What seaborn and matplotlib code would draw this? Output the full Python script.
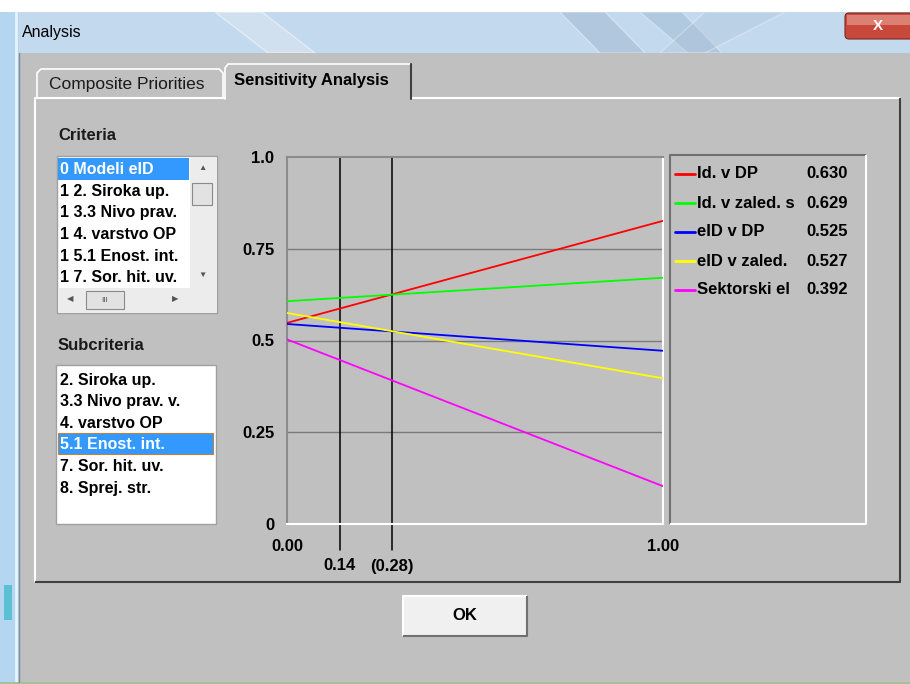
import numpy as np
import pandas as pd
import matplotlib.pyplot as plt
import seaborn as sns
from matplotlib.patches import Rectangle, Polygon, FancyBboxPatch

# chart data
alpha = [0.0, 1.0]
names = ['Id. v DP', 'Id. v zaled. s', 'eID v DP', 'eID v zaled.', 'Sektorski el']
start_vals = [0.548, 0.607, 0.545, 0.575, 0.503]
end_vals = [0.826, 0.671, 0.472, 0.397, 0.103]
legend_vals = ['0.630', '0.629', '0.525', '0.527', '0.392']
colors = ['#ff0000', '#00ff00', '#0000ff', '#ffff00', '#ff00ff']
marks = [0.14, 0.28]
mark_labels = ['0.14', '(0.28)']
yticks = [0, 0.25, 0.5, 0.75, 1.0]
ytick_labels = ['0', '0.25', '0.5', '0.75', '1.0']
criteria = ['0 Modeli eID', '1 2. Siroka up.', '1 3.3 Nivo prav.', '1 4. varstvo OP',
            '1 5.1 Enost. int.', '1 7. Sor. hit. uv.']
subcriteria = ['2. Siroka up.', '3.3 Nivo prav. v.', '4. varstvo OP', '5.1 Enost. int.',
               '7. Sor. hit. uv.', '8. Sprej. str.']

rows = []
for n, a, b in zip(names, start_vals, end_vals):
    rows.append({'alpha': alpha[0], 'priority': a, 'alt': n})
    rows.append({'alpha': alpha[1], 'priority': b, 'alt': n})
df = pd.DataFrame(rows)

sns.set_theme(style='white')
plt.rcParams['font.family'] = ['Liberation Sans', 'DejaVu Sans']

W, H = 910, 684
fig = plt.figure(figsize=(W / 100, H / 100), dpi=100)
fig.patch.set_facecolor('white')

# background / window chrome in pixel coords
bg = fig.add_axes([0, 0, 1, 1])
bg.set_xlim(0, W)
bg.set_ylim(H, 0)
bg.axis('off')

def box(x0, y0, x1, y1, fc, ec='none', lw=0, z=1):
    bg.add_patch(Rectangle((x0, y0), x1 - x0, y1 - y0, fc=fc, ec=ec, lw=lw, zorder=z))

def bevel(x0, y0, x1, y1, light, dark, lw=1.0, z=3):
    bg.plot([x0, x0, x1], [y1, y0, y0], color=light, lw=lw, zorder=z, solid_capstyle='butt')
    bg.plot([x0, x1, x1], [y1, y1, y0], color=dark, lw=lw, zorder=z, solid_capstyle='butt')

# glass frame
box(0, 12, W, H, '#c3d9ee')
box(0, 12, 19, H, '#b4d6f0')
bg.plot([16, 16], [12, H], color='#e8f3fb', lw=2, zorder=1)
box(4, 585, 12, 620, '#5cbfd2', z=1)
bg.add_patch(Polygon([[215, 12], [262, 12], [315, 53], [268, 53]], fc='#e4eaf0', alpha=0.45, zorder=1))
bg.add_patch(Polygon([[560, 12], [605, 12], [645, 53], [600, 53]], fc='#8ea8c2', alpha=0.35, zorder=1))
bg.add_patch(Polygon([[640, 12], [682, 12], [722, 53], [688, 53]], fc='#8aa4bf', alpha=0.3, zorder=1))
bg.add_patch(Polygon([[705, 12], [785, 12], [705, 53], [660, 53]], fc='#a8bfd4', alpha=0.3, zorder=1))
bg.text(22, 33, 'Analysis', fontsize=11.5, color='black', va='center', ha='left', zorder=4)
bg.add_patch(FancyBboxPatch((845, 13), 70, 26, boxstyle='round,pad=0,rounding_size=4',
                            fc='#c9483c', ec='#7a2a22', lw=0.8, zorder=2))
box(847, 15, 912, 25, '#dd8074', z=2)
bg.text(878, 26, 'X', fontsize=11, fontweight='bold', color='white', ha='center', va='center', zorder=4)

# dialog body
box(19, 53, W, 682, '#c0c0c0', z=1)
bg.plot([19, 19], [53, 682], color='#7a8a99', lw=1, zorder=2)
box(0, 682, W, H, '#a9bf97', z=1)

# tab panel
bevel(35, 98, 900, 582, 'white', '#404040', lw=1.5)
# tabs
bg.plot([37, 37, 41, 219, 223, 223], [98, 73, 69, 69, 73, 98], color='white', lw=1.2, zorder=3)
box(225, 96, 410, 100, '#c0c0c0', z=4)
bg.plot([225, 225, 228, 410], [99, 68, 64, 64], color='white', lw=1.2, zorder=4)
bg.plot([411, 411], [64, 99], color='#404040', lw=1.5, zorder=4)
bg.text(49, 85, 'Composite Priorities', fontsize=12.5, color='#1a1a1a', va='center', ha='left', zorder=4)
bg.text(234, 80, 'Sensitivity Analysis', fontsize=12, fontweight='bold', color='black',
        va='center', ha='left', zorder=4)

# criteria list
bg.text(58, 135, 'Criteria', fontsize=12, fontweight='bold', color='#1a1a1a', va='center', zorder=4)
box(57, 156, 217, 313, 'white', ec='#a0a0a0', lw=1, z=2)
box(58, 158, 189, 180, '#3399ff', z=3)
clip = Rectangle((58, 157), 131, 131, transform=bg.transData)
for i, t in enumerate(criteria):
    txt = bg.text(60, 169.5 + 21.7 * i, t, fontsize=11.5, fontweight='bold',
                  color='white' if i == 0 else 'black', va='center', ha='left', zorder=4)
    txt.set_clip_path(clip)
box(190, 157, 216, 288, '#ececec', z=3)
box(192, 183, 212, 205, '#e2e2e2', ec='#8a8a8a', lw=0.8, z=4)
bg.text(202, 169, '▲', fontsize=6, color='#555555', ha='center', va='center', zorder=5)
bg.text(202, 275, '▼', fontsize=6, color='#555555', ha='center', va='center', zorder=5)
box(58, 288, 216, 312, '#ececec', z=3)
box(86, 291, 124, 309, '#e2e2e2', ec='#8a8a8a', lw=0.8, z=4)
bg.text(105, 300, 'III', fontsize=6, color='#555555', ha='center', va='center', zorder=5)
bg.text(70, 300, '◀', fontsize=6, color='#555555', ha='center', va='center', zorder=5)
bg.text(175, 300, '▶', fontsize=6, color='#555555', ha='center', va='center', zorder=5)

# subcriteria list
bg.text(58, 345, 'Subcriteria', fontsize=12, fontweight='bold', color='#1a1a1a', va='center', zorder=4)
box(56, 365, 216, 524, 'white', ec='#a0a0a0', lw=1, z=2)
box(58, 433, 213, 454, '#3399ff', ec='#c08040', lw=0.8, z=3)
for i, t in enumerate(subcriteria):
    bg.text(60, 380 + 21.6 * i, t, fontsize=11.5, fontweight='bold',
            color='white' if i == 3 else 'black', va='center', ha='left', zorder=4)

# legend box
bevel(670, 155, 866, 524, '#707070', 'white', lw=1.5)
for i, (n, v, c) in enumerate(zip(names, legend_vals, colors)):
    yy = 174 + 29 * i
    bg.plot([675, 695], [yy, yy], color=c, lw=2, zorder=4)
    bg.text(697, yy, n, fontsize=12, fontweight='bold', color='black', va='center', ha='left', zorder=4)
    bg.text(806, yy, v, fontsize=12, fontweight='bold', color='black', va='center', ha='left', zorder=4)

# OK button
box(403, 596, 527, 636, '#f0f0f0', z=2)
bevel(403, 596, 527, 636, 'white', '#707070', lw=1.5)
bg.text(465, 616, 'OK', fontsize=12, fontweight='bold', color='black', ha='center', va='center', zorder=4)

# chart
ax = fig.add_axes([287 / W, 1 - 524 / H, (663 - 287) / W, (524 - 157) / H])
ax.patch.set_visible(False)
sns.lineplot(data=df, x='alpha', y='priority', hue='alt', palette=colors,
             legend=False, lw=1.3, ax=ax, zorder=3)
ax.set_xlim(0, 1)
ax.set_ylim(0, 1)
for g in [0.25, 0.5, 0.75]:
    ax.axhline(g, color='#7a7a7a', lw=1, zorder=1)
for m, lab in zip(marks, mark_labels):
    ax.axvline(m, ymin=-26 / 367, ymax=1, color='black', lw=1.1, clip_on=False, zorder=2)
    ax.text(m, -42 / 367, lab, transform=ax.get_xaxis_transform(), fontsize=12,
            fontweight='bold', color='black', ha='center', va='center')
ax.set_yticks(yticks)
ax.set_yticklabels(ytick_labels, fontsize=12, fontweight='bold')
ax.set_xticks(alpha)
ax.set_xticklabels(['0.00', '1.00'], fontsize=12, fontweight='bold')
ax.tick_params(axis='both', length=0, colors='black')
ax.tick_params(axis='y', pad=9)
ax.tick_params(axis='x', pad=11)
ax.set_xlabel('')
ax.set_ylabel('')
ax.spines['left'].set_color('#8c8c8c')
ax.spines['top'].set_color('#8c8c8c')
ax.spines['right'].set_color('white')
ax.spines['bottom'].set_color('white')
for s in ax.spines.values():
    s.set_linewidth(1.5)
    s.set_visible(True)

fig.savefig('out.png', dpi=100)
